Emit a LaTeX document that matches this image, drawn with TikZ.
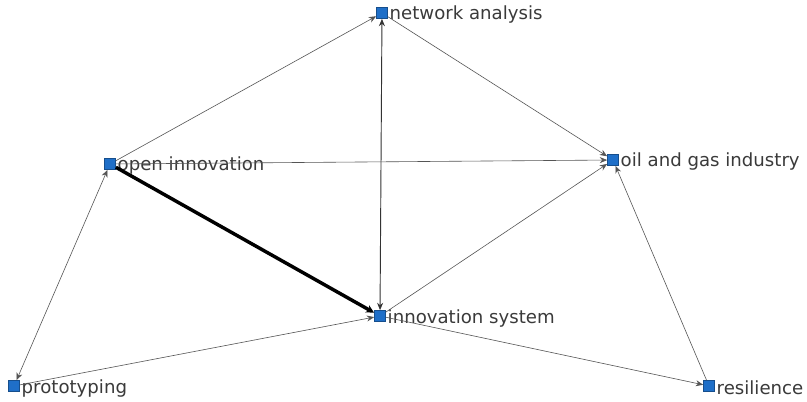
\documentclass[tikz,border=0pt]{standalone}
\usepackage{fontspec}
\setmainfont{DejaVu Sans}
\usetikzlibrary{arrows.meta}
\definecolor{nodeblue}{HTML}{1F6FC8}
\definecolor{labelgray}{HTML}{3A3A3A}
\definecolor{edgegray}{HTML}{555555}
\tikzset{
  sq/.style={rectangle, fill=nodeblue, draw=nodeblue!70!black, line width=0.3pt, minimum size=8.5pt, inner sep=0pt},
  lbl/.style={anchor=west, inner sep=1.2pt, yshift=-1.5pt, text=labelgray, font=\fontsize{13.6}{15}\selectfont},
  edge/.style={draw=edgegray, line width=0.45pt, -{Stealth[length=5.5pt,width=4.5pt]}},
  bedge/.style={draw=edgegray, line width=0.45pt, {Stealth[length=5.5pt,width=4.5pt]}-{Stealth[length=5.5pt,width=4.5pt]}},
  thick edge/.style={draw=black, line width=2.6pt, -{Stealth[length=6pt,width=6pt]}}
}
\begin{document}
\begin{tikzpicture}[x=0.75pt,y=-0.75pt]
\useasboundingbox (0,0) rectangle (807,402);
\fill[white] (0,0) rectangle (807,402);
\node[sq] (na) at (382,13) {};
\node[sq] (oi) at (110,164) {};
\node[sq] (og) at (613,160) {};
\node[sq] (is) at (380,316) {};
\node[sq] (pr) at (14,386) {};
\node[sq] (re) at (709,386) {};
\node[lbl] (nal) at (na.east) {network analysis};
\node[lbl] (oil) at (oi.east) {open innovation};
\node[lbl] (ogl) at (og.east) {oil and gas industry};
\node[lbl] (isl) at (is.east) {innovation system};
\node[lbl] (prl) at (pr.east) {prototyping};
\node[lbl] (rel) at (re.east) {resilience};
\draw[edge] (oi) -- (na);
\draw[edge] (na) -- (og);
\draw[bedge, draw=black!80, line width=0.7pt] (na) -- (is);
\draw[edge] (oi) -- (og);
\draw[thick edge] (oi) -- (is);
\draw[bedge] (oi) -- (pr);
\draw[edge] (pr) -- (is);
\draw[edge] (is) -- (og);
\draw[edge] (is) -- (re);
\draw[edge] (re) -- (og);
\end{tikzpicture}
\end{document}
